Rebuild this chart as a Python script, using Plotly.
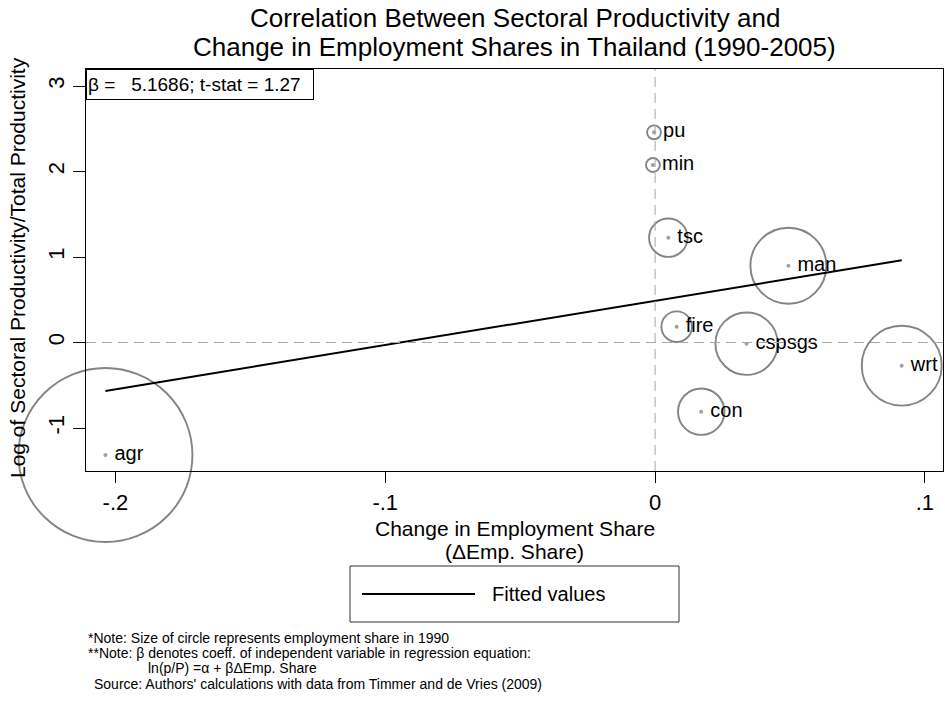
import plotly.graph_objects as go

# datos
SECTORES = ['agr', 'min', 'man', 'pu', 'con', 'wrt', 'tsc', 'fire', 'cspsgs']
DELTA_EMP = [-0.2037, -0.0008, 0.0494, -0.0004, 0.0171, 0.0914, 0.0049, 0.0080, 0.0339]
LOG_PROD = [-1.316, 2.076, 0.898, 2.458, -0.809, -0.271, 1.226, 0.185, -0.014]
EMP_1990 = [0.64, 0.0041, 0.122, 0.0041, 0.0455, 0.135, 0.0313, 0.0197, 0.082]

FIT_X = [-0.2037, 0.0914]
FIT_Y = [-0.567, 0.961]

X_TICKS = [-0.2, -0.1, 0, 0.1]
X_TICKTEXT = ['-.2', '-.1', '0', '.1']
Y_TICKS = [-1, 0, 1, 2, 3]
Y_TICKTEXT = ['-1', '0', '1', '2', '3']

FONT = 'Liberation Sans, Arial, sans-serif'
NEGRO = '#000000'
GRIS_CIRC = '#515151'
GRIS_PUNTO = '#a0a0a0'
GRIS_REF = '#a8a8a8'

# geometría (px)
W, H = 945, 704
L, R, T, B = 86, 2, 69, 233
PW, PH = W - L - R, H - T - B


def px_x(px):
    return (px - L) / PW


def px_y(py):
    return (H - B - py) / PH


fig = go.Figure()

# líneas de referencia en 0
fig.add_hline(y=0, line=dict(color=GRIS_REF, width=1, dash='10px,6px'))
fig.add_vline(x=0, line=dict(color=GRIS_REF, width=1, dash='10px,6px'))

# círculos: tamaño = participación en el empleo 1990
fig.add_trace(go.Scatter(
    x=DELTA_EMP, y=LOG_PROD, mode='markers',
    marker=dict(size=EMP_1990, sizemode='area', sizeref=max(EMP_1990) / (2 * 87 ** 2),
                color='rgba(0,0,0,0)', line=dict(color=GRIS_CIRC, width=1.9)),
    cliponaxis=False, showlegend=False, hoverinfo='skip'
))

# línea ajustada
fig.add_trace(go.Scatter(
    x=FIT_X, y=FIT_Y, mode='lines', name='Fitted values',
    line=dict(color=NEGRO, width=2), showlegend=False
))

# puntos + etiquetas
fig.add_trace(go.Scatter(
    x=DELTA_EMP, y=LOG_PROD, mode='markers+text',
    text=[' ' + s for s in SECTORES], textposition='middle right',
    textfont=dict(family=FONT, size=20, color=NEGRO),
    marker=dict(size=4, color=GRIS_PUNTO),
    cliponaxis=False, showlegend=False
))

anotaciones = [
    dict(text='Correlation Between Sectoral Productivity and', x=0.5, y=px_y(18.5), size=26),
    dict(text='Change in Employment Shares in Thailand (1990-2005)', x=0.5, y=px_y(47), size=26),
    dict(text='Change in Employment Share', x=0.5, y=px_y(528), size=21),
    dict(text='(\u0394Emp. Share)', x=0.5, y=px_y(551), size=21),
]
for a in anotaciones:
    fig.add_annotation(text=a['text'], x=a['x'], y=a['y'], xref='paper', yref='paper',
                       xanchor='center', yanchor='middle', showarrow=False,
                       font=dict(family=FONT, size=a['size'], color=NEGRO))

# título eje Y
fig.add_annotation(text='Log of Sectoral Productivity/Total Productivity', textangle=-90,
                   x=px_x(17), y=px_y(268), xref='paper', yref='paper',
                   xanchor='center', yanchor='middle', showarrow=False,
                   font=dict(family=FONT, size=21, color=NEGRO))

# caja beta
fig.add_annotation(text='\u03b2 =\u00a0\u00a0\u00a05.1686; t-stat = 1.27', x=0, y=1,
                   xref='paper', yref='paper', xanchor='left', yanchor='top',
                   showarrow=False, align='left', width=224, height=27,
                   bordercolor=NEGRO, borderwidth=1, borderpad=1, bgcolor='white',
                   font=dict(family=FONT, size=19, color=NEGRO))

# leyenda dibujada
fig.add_shape(type='rect', xref='paper', yref='paper',
              x0=px_x(350), x1=px_x(679), y0=px_y(622), y1=px_y(566),
              line=dict(color='#333333', width=1))
fig.add_shape(type='line', xref='paper', yref='paper',
              x0=px_x(362), x1=px_x(475), y0=px_y(594), y1=px_y(594),
              line=dict(color=NEGRO, width=2))
fig.add_annotation(text='Fitted values', x=px_x(490), y=px_y(594), xref='paper', yref='paper',
                   xanchor='left', yanchor='middle', showarrow=False,
                   font=dict(family=FONT, size=20, color=NEGRO))

# notas
notas = [
    ('*Note: Size of circle represents employment share in 1990', 86, 638),
    ('**Note: \u03b2 denotes coeff. of independent variable in regression equation:', 86, 653),
    ('ln(p/P) =\u03b1 + \u03b2\u0394Emp. Share', 146, 668),
    ("Source: Authors' calculations with data from Timmer and de Vries (2009)", 92, 684),
]
for txt, nx, ny in notas:
    fig.add_annotation(text=txt, x=px_x(nx), y=px_y(ny), xref='paper', yref='paper',
                       xanchor='left', yanchor='middle', showarrow=False,
                       font=dict(family=FONT, size=14, color=NEGRO))

fig.update_layout(
    width=W, height=H,
    margin=dict(l=L, r=R, t=T, b=B),
    paper_bgcolor='white', plot_bgcolor='white',
    font=dict(family=FONT, color=NEGRO),
    xaxis=dict(range=[-0.2109, 0.1067], tickvals=X_TICKS, ticktext=X_TICKTEXT,
               showgrid=False, zeroline=False, showline=True, mirror=True,
               linecolor=NEGRO, linewidth=1.3, ticks='outside', ticklen=11,
               tickcolor=NEGRO, tickfont=dict(size=22, family=FONT), automargin=False),
    yaxis=dict(range=[-1.503, 3.199], tickvals=Y_TICKS, ticktext=Y_TICKTEXT,
               showgrid=False, zeroline=False, showline=True, mirror=True,
               linecolor=NEGRO, linewidth=1.3, ticks='outside', ticklen=12,
               tickcolor=NEGRO, tickangle=-90, tickfont=dict(size=22, family=FONT),
               automargin=False),
)

# quitar el margen del body para que la figura empiece en (0, 0)
fig.write_html("out.html", config={'displayModeBar': False},
               post_script="document.body.style.margin='0px';")
